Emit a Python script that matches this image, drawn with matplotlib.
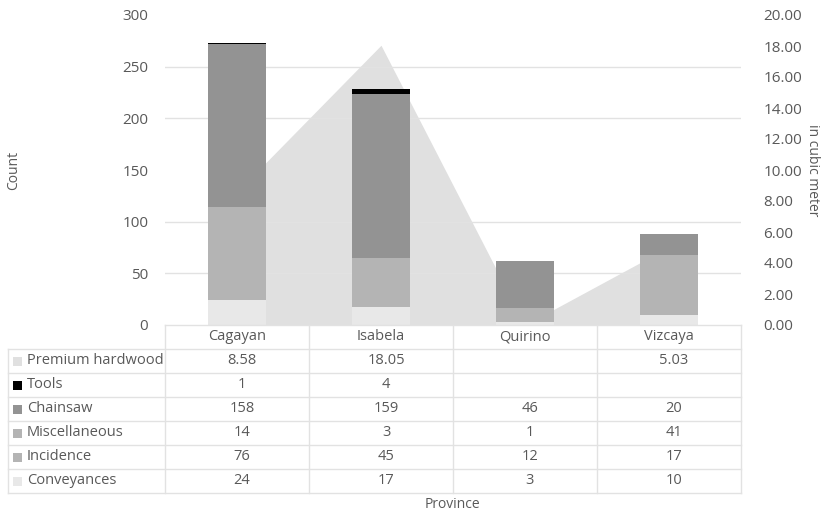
import numpy as np
import matplotlib.pyplot as plt
from matplotlib.lines import Line2D
from matplotlib.patches import Rectangle

plt.rcParams['font.family'] = ['Open Sans', 'DejaVu Sans']

provinces = ["Cagayan", "Isabela", "Quirino", "Vizcaya"]
conveyances = [24, 17, 3, 10]
incidence = [76, 45, 12, 17]
miscellaneous = [14, 3, 1, 41]
chainsaw = [158, 159, 46, 20]
tools = [1, 4, 0, 0]
premium_hardwood = [8.58, 18.05, 0, 5.03]

tools_txt = ["1", "4", "", ""]
premium_txt = ["8.58", "18.05", "", "5.03"]

stack_names = ["Conveyances", "Incidence", "Miscellaneous", "Chainsaw", "Tools"]
stack_vals = [conveyances, incidence, miscellaneous, chainsaw, tools]
stack_cols = ["#e8e8e8", "#b4b4b4", "#b4b4b4", "#939393", "#000000"]
area_col = "#e0e0e0"
txt_col = "#595959"
line_col = "#e2e2e2"

W, H = 821, 517
fig = plt.figure(figsize=(W / 100, H / 100), dpi=100)

L, R, T, B = 165, 741, 15, 325
ax = fig.add_axes([L / W, 1 - B / H, (R - L) / W, (B - T) / H])
ax2 = ax.twinx()
ax.set_zorder(ax2.get_zorder() + 1)
ax.patch.set_visible(False)

x = np.arange(len(provinces))

# area on the secondary axis
ax2.fill_between(x, premium_hardwood, 0, color=area_col, lw=0)
ax2.set_ylim(0, 20)
ax2.set_yticks(np.arange(0, 21, 2))
ax2.set_yticklabels([f"{v:.2f}" for v in np.arange(0, 21, 2)])
count_ticks = np.arange(0, 301, 50)
ax2.set_yticks(count_ticks * 20 / 300, minor=True)
ax2.grid(which="minor", axis="y", color=line_col, lw=1)
ax2.tick_params(which="both", length=0, labelsize=11, labelcolor=txt_col, pad=16)
ax2.set_ylabel("in cubic meter", color=txt_col, fontsize=10, rotation=-90, va="center")
ax2.yaxis.set_label_coords((812 - L) / (R - L), 0.5)

# stacked bars
bottom = np.zeros(len(provinces))
for name, vals, col in zip(stack_names, stack_vals, stack_cols):
    ax.bar(x, vals, 0.4, bottom=bottom, color=col, lw=0, label=name)
    bottom += np.array(vals)

ax.set_xlim(-0.5, len(provinces) - 0.5)
ax2.set_xlim(-0.5, len(provinces) - 0.5)
ax.set_ylim(0, 300)
ax.set_yticks(count_ticks)
ax.set_xticks([])
ax.tick_params(length=0, labelsize=11, labelcolor=txt_col, pad=12)
ax.set_ylabel("Count", color=txt_col, fontsize=10, va="center")
ax.yaxis.set_label_coords((14 - L) / (R - L), 0.5)
for a in (ax, ax2):
    for s in a.spines.values():
        s.set_visible(False)


# data table drawn below the plot
def fx(px):
    return px / W


def fy(py):
    return 1 - py / H


col_w = (R - L) / len(provinces)
row_h = 24
rows = [("Premium hardwood", premium_txt, area_col)]
for name, vals, col in reversed(list(zip(stack_names, stack_vals, stack_cols))):
    rows.append((name, tools_txt if name == "Tools" else [str(v) for v in vals], col))

tab_left = 8
top = B
n_rows = len(rows) + 1
bottom_y = top + n_rows * row_h

def hline(y, x0, x1):
    fig.add_artist(Line2D([fx(x0), fx(x1)], [fy(y), fy(y)], color=line_col, lw=1))

def vline(xp, y0, y1):
    fig.add_artist(Line2D([fx(xp), fx(xp)], [fy(y0), fy(y1)], color=line_col, lw=1))

hline(top, L, R)
for i in range(1, n_rows + 1):
    hline(top + i * row_h, tab_left, R)
for j in range(len(provinces) + 1):
    vline(L + j * col_w, top, bottom_y)
vline(tab_left, top + row_h, bottom_y)

for j, p in enumerate(provinces):
    fig.text(fx(L + (j + 0.5) * col_w), fy(top + row_h / 2), p,
             ha="center", va="center", fontsize=10.5, color=txt_col)

for i, (name, vals, col) in enumerate(rows):
    yc = top + (i + 1.5) * row_h
    fig.add_artist(Rectangle((fx(13), fy(yc + 4.5)), 9 / W, 9 / H, color=col,
                             transform=fig.transFigure, lw=0))
    fig.text(fx(27), fy(yc), name, ha="left", va="center", fontsize=10.5, color=txt_col)
    for j, v in enumerate(vals):
        fig.text(fx(L + (j + 0.5) * col_w + 5), fy(yc), v,
                 ha="center", va="center", fontsize=10.5, color=txt_col)

fig.text(fx(452), fy(505), "Province", ha="center", va="center", fontsize=10, color=txt_col)

fig.savefig("out.png", dpi=100)
